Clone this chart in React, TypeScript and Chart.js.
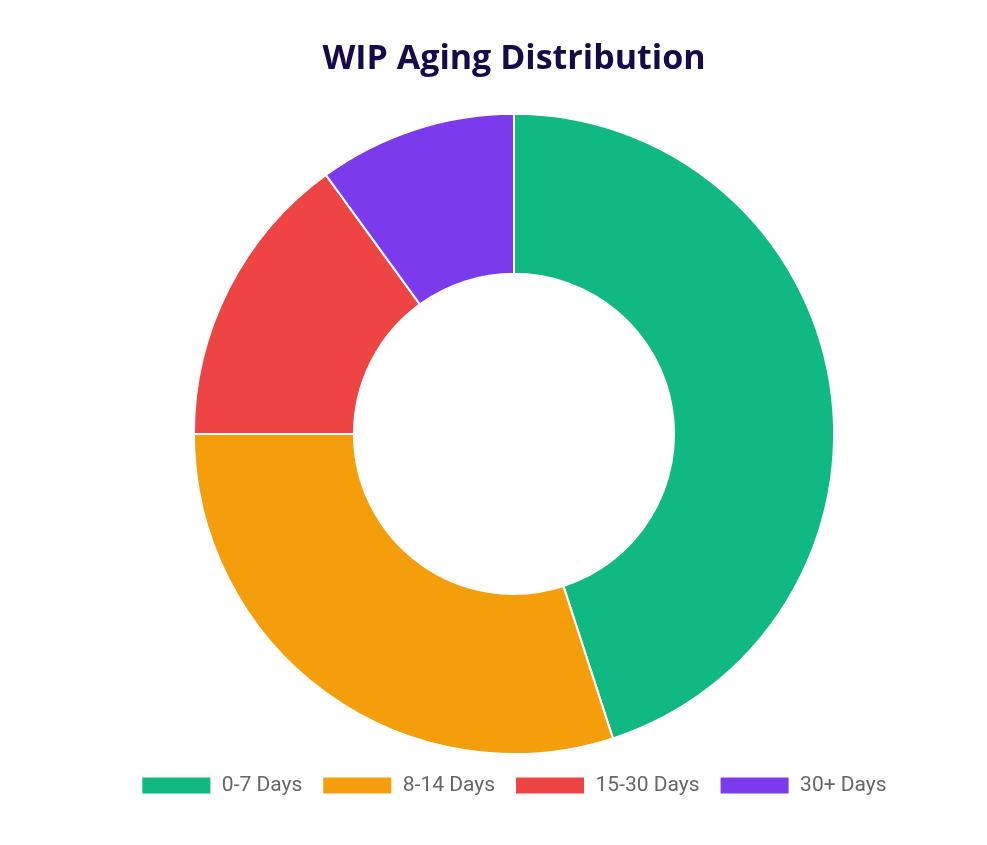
import React, { useEffect, useRef } from 'react';
import { Chart, registerables } from 'chart.js';

Chart.register(...registerables);

const labels = ['0-7 Days', '8-14 Days', '15-30 Days', '30+ Days'];
const counts = [45, 30, 15, 10];
const colors = ['#10b981', '#f59e0b', '#ef4444', '#7c3aed'];

const App: React.FC = () => {
  const canvasRef = useRef<HTMLCanvasElement>(null);

  useEffect(() => {
    if (!canvasRef.current) return;
    const chart = new Chart(canvasRef.current, {
      type: 'doughnut',
      data: {
        labels,
        datasets: [{
          data: counts,
          backgroundColor: colors,
          borderColor: '#ffffff',
          borderWidth: 2,
        }],
      },
      options: {
        responsive: true,
        maintainAspectRatio: false,
        animation: false,
        cutout: '50%',
        layout: { padding: { bottom: 12 } },
        plugins: {
          title: {
            display: true,
            text: 'WIP Aging Distribution',
            color: '#160a4a',
            font: { family: '"Open Sans", sans-serif', size: 34, weight: 'bold' },
            padding: { top: 31, bottom: 33 },
          },
          legend: {
            position: 'bottom',
            labels: {
              boxWidth: 70,
              boxHeight: 18,
              padding: 20,
              color: '#666',
              font: { family: 'Roboto, sans-serif', size: 21 },
            },
          },
          tooltip: { enabled: false },
        },
      },
    });
    return () => chart.destroy();
  }, []);

  return (
    <div style={{ width: 900, height: 810, marginLeft: 56, position: 'relative' }}>
      <canvas ref={canvasRef} />
    </div>
  );
};

export default App;
